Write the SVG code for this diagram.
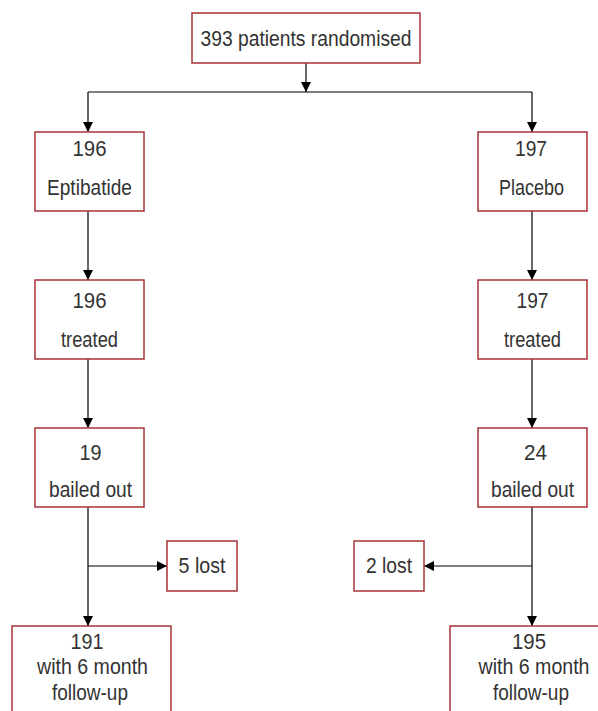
<svg xmlns="http://www.w3.org/2000/svg" width="598" height="711" viewBox="0 0 598 711">
<defs>
<style>
.box{fill:#fff;stroke:#a8343a;stroke-width:1.5}
.t{font-family:"Liberation Sans",Arial,sans-serif;font-size:22px;fill:#333;text-anchor:middle}
.ln{stroke:#000;stroke-width:1.2;fill:none}
</style>
<marker id="ah" viewBox="0 0 10 10" refX="10" refY="5" markerWidth="10" markerHeight="10" markerUnits="userSpaceOnUse" orient="auto">
<path d="M0,0 L10,5 L0,10 Z" fill="#000"/>
</marker>
</defs>
<rect width="598" height="711" fill="#fff"/>
<g id="connectors">
<line class="ln" x1="306" y1="63" x2="306" y2="92" marker-end="url(#ah)"/>
<line class="ln" x1="88" y1="92" x2="532" y2="92"/>
<line class="ln" x1="88" y1="92" x2="88" y2="132" marker-end="url(#ah)"/>
<line class="ln" x1="532" y1="92" x2="532" y2="132" marker-end="url(#ah)"/>
<line class="ln" x1="88" y1="211" x2="88" y2="280" marker-end="url(#ah)"/>
<line class="ln" x1="532" y1="211" x2="532" y2="280" marker-end="url(#ah)"/>
<line class="ln" x1="88" y1="359" x2="88" y2="428" marker-end="url(#ah)"/>
<line class="ln" x1="532" y1="359" x2="532" y2="428" marker-end="url(#ah)"/>
<line class="ln" x1="88" y1="507" x2="88" y2="626" marker-end="url(#ah)"/>
<line class="ln" x1="532" y1="507" x2="532" y2="626" marker-end="url(#ah)"/>
<line class="ln" x1="88" y1="566" x2="167" y2="566" marker-end="url(#ah)"/>
<line class="ln" x1="532" y1="566" x2="424" y2="566" marker-end="url(#ah)"/>
</g>
<g id="randomised">
<rect class="box" x="192" y="13" width="228" height="50"/>
<text class="t" x="306" y="46" textLength="211" lengthAdjust="spacingAndGlyphs">393 patients randomised</text>
</g>
<g id="eptibatide">
<rect class="box" x="35" y="132" width="109" height="79"/>
<text class="t" x="89.5" y="156" textLength="34" lengthAdjust="spacingAndGlyphs">196</text>
<text class="t" x="89.5" y="195" textLength="85" lengthAdjust="spacingAndGlyphs">Eptibatide</text>
</g>
<g id="placebo">
<rect class="box" x="478" y="132" width="109" height="79"/>
<text class="t" x="531" y="156" textLength="32" lengthAdjust="spacingAndGlyphs">197</text>
<text class="t" x="531.5" y="195" textLength="65" lengthAdjust="spacingAndGlyphs">Placebo</text>
</g>
<g id="treated-left">
<rect class="box" x="35" y="280" width="109" height="79"/>
<text class="t" x="89.5" y="308" textLength="34" lengthAdjust="spacingAndGlyphs">196</text>
<text class="t" x="89.5" y="347" textLength="57" lengthAdjust="spacingAndGlyphs">treated</text>
</g>
<g id="treated-right">
<rect class="box" x="478" y="280" width="109" height="79"/>
<text class="t" x="532.5" y="308" textLength="32" lengthAdjust="spacingAndGlyphs">197</text>
<text class="t" x="532.5" y="347" textLength="57" lengthAdjust="spacingAndGlyphs">treated</text>
</g>
<g id="bailed-left">
<rect class="box" x="35" y="428" width="109" height="79"/>
<text class="t" x="90.5" y="460" textLength="22" lengthAdjust="spacingAndGlyphs">19</text>
<text class="t" x="90.5" y="497" textLength="83" lengthAdjust="spacingAndGlyphs">bailed out</text>
</g>
<g id="bailed-right">
<rect class="box" x="478" y="428" width="109" height="79"/>
<text class="t" x="535.5" y="460" textLength="23" lengthAdjust="spacingAndGlyphs">24</text>
<text class="t" x="532.5" y="497" textLength="83" lengthAdjust="spacingAndGlyphs">bailed out</text>
</g>
<g id="lost-left">
<rect class="box" x="167" y="541" width="70" height="50"/>
<text class="t" x="202" y="573" textLength="47" lengthAdjust="spacingAndGlyphs">5 lost</text>
</g>
<g id="lost-right">
<rect class="box" x="354" y="541" width="70" height="50"/>
<text class="t" x="389" y="573" textLength="46" lengthAdjust="spacingAndGlyphs">2 lost</text>
</g>
<g id="followup-left">
<rect class="box" x="12" y="626" width="159" height="100"/>
<text class="t" x="87" y="649" textLength="33" lengthAdjust="spacingAndGlyphs">191</text>
<text class="t" x="92.5" y="674" textLength="111" lengthAdjust="spacingAndGlyphs">with 6 month</text>
<text class="t" x="90" y="700" textLength="76" lengthAdjust="spacingAndGlyphs">follow-up</text>
</g>
<g id="followup-right">
<rect class="box" x="450" y="626" width="159" height="100"/>
<text class="t" x="529" y="649" textLength="34" lengthAdjust="spacingAndGlyphs">195</text>
<text class="t" x="534" y="674" textLength="111" lengthAdjust="spacingAndGlyphs">with 6 month</text>
<text class="t" x="531" y="700" textLength="76" lengthAdjust="spacingAndGlyphs">follow-up</text>
</g>
</svg>
